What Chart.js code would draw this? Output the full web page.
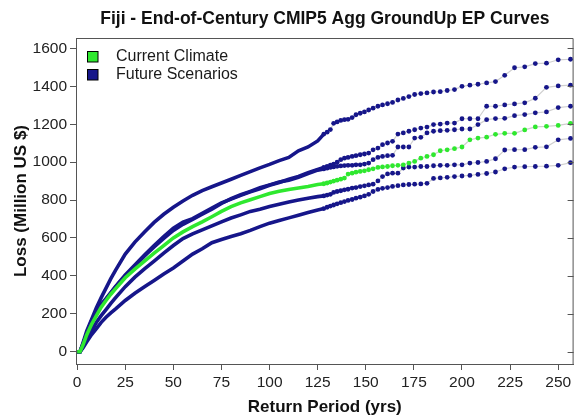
<!DOCTYPE html>
<html>
<head>
<meta charset="utf-8">
<script src="https://cdn.jsdelivr.net/npm/chart.js@4.4.1/dist/chart.umd.min.js"></script>
<style>
  html, body { margin: 0; padding: 0; background: #ffffff; }
  #wrap { width: 576px; height: 419px; position: relative; }
</style>
</head>
<body>
<div id="wrap"><canvas id="c" width="576" height="419"></canvas></div>
<script>
// ---- Data ----
const titleText = 'Fiji - End-of-Century CMIP5 Agg GroundUp EP Curves';
const xTitle = 'Return Period (yrs)';
const yTitle = 'Loss (Million US $)';
const xTicks = [0, 25, 50, 75, 100, 125, 150, 175, 200, 225, 250];
const yTicks = [0, 200, 400, 600, 800, 1000, 1200, 1400, 1600];
const legendLabels = ['Current Climate', 'Future Scenarios'];

// return periods (yrs) shared by all curves
const returnPeriod = [0, 1.5, 3, 5, 7.5, 10, 12.5, 15, 17.5, 20, 25, 30, 35, 40, 45, 50, 55, 60, 65, 70, 75, 80, 85, 90, 95, 100, 105, 110, 115, 120, 125,
  128.2, 129.9, 131.6, 133.3, 135.1, 137.0, 138.9, 140.8, 142.9, 144.9, 147.1, 149.3, 151.5, 153.8, 156.3, 158.7, 161.3, 163.9, 166.7, 169.5,
  172.4, 175.4, 178.6, 181.8, 185.2, 188.7, 192.3, 196.1, 200.0, 204.1, 208.3, 212.8, 217.4, 222.2, 227.3, 232.6, 238.1, 243.9, 250.0, 256.4];

const currentClimate = [0, 0, 35, 90, 145, 190, 235, 270, 303, 333, 390, 436, 478, 520, 560, 600, 632, 660, 685, 712, 740, 765, 785, 802, 818, 835, 846, 856, 864, 872, 882,
  886, 890, 895, 900, 905, 910, 916, 937, 942, 947, 951, 954, 960, 965, 972, 975, 977, 981, 983, 986, 995, 1004, 1021, 1030, 1039, 1060, 1065, 1071, 1080, 1118, 1127, 1132, 1147, 1152, 1152, 1170, 1186, 1189, 1194, 1205];

const futureA = [0, 0, 45, 110, 170, 232, 285, 335, 385, 430, 515, 578, 632, 682, 725, 762, 795, 825, 850, 870, 890, 910, 930, 950, 970, 988, 1008, 1025, 1060, 1080, 1112,
  1148, 1158, 1172, 1205, 1212, 1220, 1224, 1226, 1235, 1250, 1258, 1265, 1275, 1285, 1295, 1302, 1308, 1315, 1328, 1336, 1346, 1357, 1362, 1365, 1370, 1372, 1378, 1383, 1400, 1406, 1411, 1418, 1425, 1458, 1498, 1503, 1520, 1522, 1540, 1543];

const futureB = [0, 0, 40, 96, 165, 210, 250, 280, 312, 345, 405, 458, 510, 560, 607, 652, 684, 702, 730, 758, 785, 805, 825, 843, 860, 878, 893, 910, 925, 945, 962,
  972, 978, 984, 990, 1000, 1013, 1021, 1025, 1030, 1034, 1039, 1043, 1048, 1065, 1074, 1092, 1101, 1110, 1148, 1154, 1163, 1171, 1180, 1185, 1198, 1201, 1206, 1206, 1229, 1229, 1229, 1295, 1295, 1302, 1307, 1313, 1337, 1395, 1402, 1406];

const futureC = [0, 0, 38, 92, 160, 205, 245, 277, 310, 342, 400, 452, 505, 553, 598, 640, 672, 698, 725, 752, 782, 808, 828, 846, 865, 880, 895, 905, 920, 940, 958,
  964, 968, 972, 975, 978, 980, 982, 983, 983, 986, 986, 990, 995, 1013, 1025, 1030, 1034, 1036, 1080, 1080, 1080, 1127, 1131, 1154, 1163, 1166, 1168, 1171, 1175, 1175, 1198, 1224, 1230, 1231, 1245, 1251, 1260, 1265, 1288, 1295];

const futureD = [0, 0, 28, 65, 110, 155, 190, 222, 255, 285, 343, 393, 437, 478, 520, 560, 597, 622, 643, 664, 685, 705, 722, 740, 752, 766, 778, 790, 800, 810, 818,
  822, 826, 830, 840, 845, 849, 854, 857, 863, 866, 871, 875, 880, 884, 901, 924, 938, 942, 942, 969, 974, 974, 977, 977, 981, 983, 983, 986, 986, 995, 998, 1004, 1018, 1064, 1066, 1066, 1078, 1081, 1118, 1125];

const futureE = [0, 0, 20, 52, 90, 122, 155, 182, 205, 226, 270, 308, 342, 376, 410, 442, 478, 515, 543, 575, 592, 608, 622, 640, 660, 678, 692, 706, 720, 734, 748,
  755, 762, 768, 774, 780, 786, 792, 798, 803, 810, 815, 822, 830, 845, 856, 862, 866, 872, 876, 880, 882, 884, 885, 888, 914, 917, 920, 924, 927, 930, 935, 940, 948, 965, 974, 976, 977, 979, 983, 997];

// ---- Styling ----
const GREEN = '#2fe82f';
const BLUE = '#16168a';
const LINK = '#cfcfcf';
const SPARSE_FROM = 127; // return period where individual dots become visible
const FONT = '"Liberation Sans", Arial, Helvetica, sans-serif';
const AXIS_COLOR = '#555555';

function toPoints(ys) { return ys.map((y, i) => ({ x: returnPeriod[i], y: y })); }

function makeDataset(label, ys, color) {
  return {
    label: label,
    data: toPoints(ys),
    borderColor: color,
    backgroundColor: color,
    borderWidth: 3.6,
    pointRadius: ctx => (ctx.raw && ctx.raw.x >= SPARSE_FROM ? 2.4 : 0),
    pointHoverRadius: 0,
    pointBorderWidth: 0,
    pointBackgroundColor: color,
    tension: 0,
    fill: false,
    segment: {
      borderColor: ctx => (ctx.p0.parsed.x >= SPARSE_FROM ? LINK : color),
      borderWidth: ctx => (ctx.p0.parsed.x >= SPARSE_FROM ? 1.2 : 3.6)
    }
  };
}

const datasets = [
  makeDataset(legendLabels[0], currentClimate, GREEN),
  makeDataset(legendLabels[1], futureA, BLUE),
  makeDataset(legendLabels[1], futureB, BLUE),
  makeDataset(legendLabels[1], futureC, BLUE),
  makeDataset(legendLabels[1], futureD, BLUE),
  makeDataset(legendLabels[1], futureE, BLUE)
];

const decorPlugin = {
  id: 'decor',
  afterDraw(chart) {
    const ctx = chart.ctx;
    const a = chart.chartArea;
    const ys = chart.scales.y;
    ctx.save();
    // frame (top & right)
    ctx.strokeStyle = AXIS_COLOR;
    ctx.lineWidth = 1;
    ctx.beginPath();
    ctx.moveTo(a.left, a.top + 0.5);
    ctx.lineTo(a.right - 0.5, a.top + 0.5);
    ctx.lineTo(a.right - 0.5, a.bottom);
    ctx.stroke();
    // inward ticks on right side
    ctx.beginPath();
    yTicks.forEach(v => {
      const py = Math.round(ys.getPixelForValue(v)) + 0.5;
      ctx.moveTo(a.right, py);
      ctx.lineTo(a.right - 6, py);
    });
    ctx.stroke();
    // title
    ctx.fillStyle = '#111111';
    ctx.font = 'bold 17.5px ' + FONT;
    ctx.textAlign = 'center';
    ctx.textBaseline = 'middle';
    ctx.fillText(titleText, (a.left + a.right) / 2, 19);
    // legend
    const items = [[legendLabels[0], GREEN], [legendLabels[1], BLUE]];
    ctx.font = '16px ' + FONT;
    ctx.textAlign = 'left';
    items.forEach((it, i) => {
      const y0 = a.top + 13 + i * 18;
      ctx.fillStyle = it[1];
      ctx.fillRect(a.left + 11, y0, 11, 11);
      ctx.strokeStyle = '#000000';
      ctx.lineWidth = 1;
      ctx.strokeRect(a.left + 11.5, y0 + 0.5, 10.5, 10.5);
      ctx.fillStyle = '#1a1a1a';
      ctx.fillText(it[0], a.left + 40, y0 + 6);
    });
    ctx.restore();
  }
};

new Chart(document.getElementById('c'), {
  type: 'line',
  data: { datasets: datasets },
  plugins: [decorPlugin],
  options: {
    responsive: false,
    animation: false,
    events: [],
    layout: { padding: { top: 38, right: 2, left: 0, bottom: 0 } },
    plugins: {
      legend: { display: false },
      title: { display: false },
      tooltip: { enabled: false }
    },
    scales: {
      x: {
        type: 'linear',
        min: -0.6,
        max: 258,
        afterBuildTicks: ax => { ax.ticks = xTicks.map(v => ({ value: v })); },
        afterFit: ax => { ax.height = 55; },
        ticks: { font: { family: FONT, size: 15.5 }, color: '#222222', padding: 3, maxRotation: 0, autoSkip: false, callback: v => String(v) },
        grid: { drawOnChartArea: false, drawTicks: true, tickLength: 6, color: AXIS_COLOR },
        border: { display: true, color: AXIS_COLOR, width: 1 },
        title: { display: true, text: xTitle, font: { family: FONT, size: 17, weight: 'bold' }, color: '#111111', padding: { top: 0, bottom: 1 } }
      },
      y: {
        type: 'linear',
        min: -65,
        max: 1655,
        afterBuildTicks: ax => { ax.ticks = yTicks.map(v => ({ value: v })); },
        afterFit: ax => { ax.width = 76; },
        ticks: { font: { family: FONT, size: 15.5 }, color: '#222222', padding: 3, autoSkip: false, callback: v => String(v) },
        grid: { drawOnChartArea: false, drawTicks: true, tickLength: 6, color: AXIS_COLOR },
        border: { display: true, color: AXIS_COLOR, width: 1 },
        title: { display: true, text: yTitle, font: { family: FONT, size: 17, weight: 'bold' }, color: '#111111', padding: { top: 11, bottom: 0 } }
      }
    }
  }
});
</script>
</body>
</html>
